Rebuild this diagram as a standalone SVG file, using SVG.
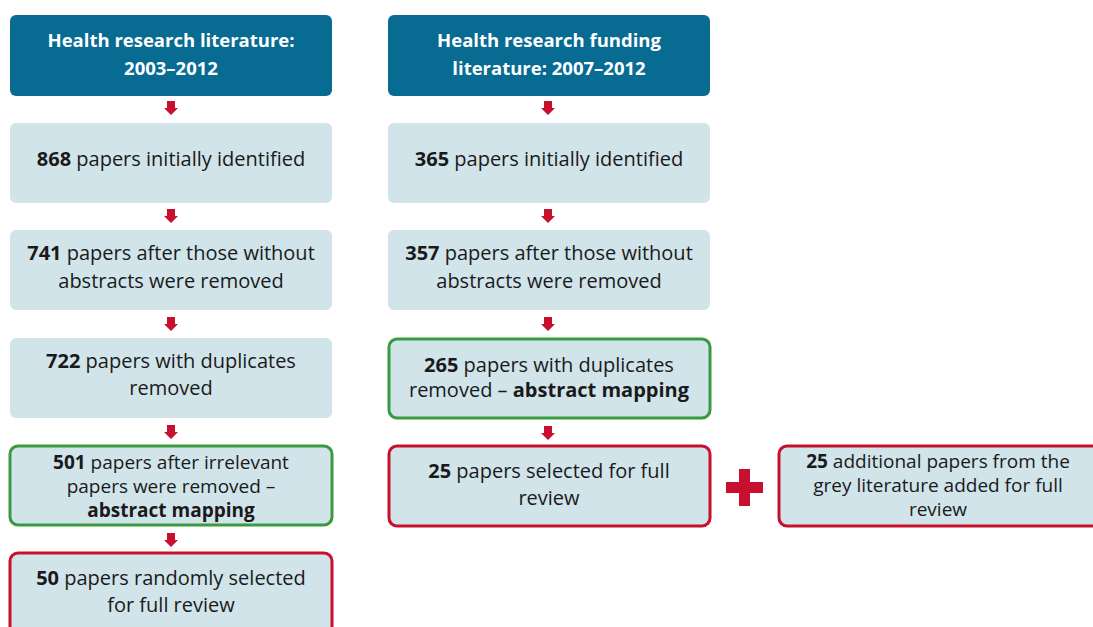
<svg xmlns="http://www.w3.org/2000/svg" width="1093" height="627" viewBox="0 0 1093 627">
  <defs>
    <style>
      .head { fill: #086b92; }
      .box { fill: #d0e4ea; }
      .green { fill: #d0e4ea; stroke: #3a9a3f; stroke-width: 3; }
      .red { fill: #d0e4ea; stroke: #c8102e; stroke-width: 3; }
      .arrow { fill: #c8102e; }
      text { font-family: "Open Sans", "Liberation Sans", sans-serif; font-size: 20px; fill: #1a1a1a; text-anchor: middle; }
      .ht { fill: #ffffff; font-weight: bold; font-size: 18.5px; }
      .sm { font-size: 19px; }
      .b { font-weight: bold; }
    </style>
    <path id="dn" d="M-4,0 H4 V7 H7 L0,14 L-7,7 H-4 Z"/>
  </defs>

  <!-- Left column -->
  <g id="left-head">
    <rect class="head" x="10" y="15" width="322" height="81" rx="6"/>
    <text class="ht" x="171" y="47">Health research literature:</text>
    <text class="ht" x="171" y="75">2003–2012</text>
  </g>
  <g id="left-868">
    <rect class="box" x="10" y="123" width="322" height="80" rx="6"/>
    <text x="171" y="166"><tspan class="b">868</tspan> papers initially identified</text>
  </g>
  <g id="left-741">
    <rect class="box" x="10" y="230" width="322" height="80" rx="6"/>
    <text x="171" y="260"><tspan class="b">741</tspan> papers after those without</text>
    <text x="171" y="288">abstracts were removed</text>
  </g>
  <g id="left-722">
    <rect class="box" x="10" y="338" width="322" height="80" rx="6"/>
    <text x="171" y="368"><tspan class="b">722</tspan> papers with duplicates</text>
    <text x="171" y="395">removed</text>
  </g>
  <g id="left-501">
    <rect class="green" x="10" y="446" width="322" height="79" rx="8"/>
    <text class="sm" x="171" y="469"><tspan class="b">501</tspan> papers after irrelevant</text>
    <text class="sm" x="171" y="493">papers were removed –</text>
    <text class="sm b" x="171" y="517">abstract mapping</text>
  </g>
  <g id="left-50">
    <rect class="red" x="10" y="553" width="322" height="90" rx="8"/>
    <text x="171" y="585"><tspan class="b">50</tspan> papers randomly selected</text>
    <text x="171" y="612">for full review</text>
  </g>

  <!-- Right column -->
  <g id="right-head">
    <rect class="head" x="388" y="15" width="322" height="81" rx="6"/>
    <text class="ht" x="549" y="47">Health research funding</text>
    <text class="ht" x="549" y="75">literature: 2007–2012</text>
  </g>
  <g id="right-365">
    <rect class="box" x="388" y="123" width="322" height="80" rx="6"/>
    <text x="549" y="166"><tspan class="b">365</tspan> papers initially identified</text>
  </g>
  <g id="right-357">
    <rect class="box" x="388" y="230" width="322" height="80" rx="6"/>
    <text x="549" y="260"><tspan class="b">357</tspan> papers after those without</text>
    <text x="549" y="288">abstracts were removed</text>
  </g>
  <g id="right-265">
    <rect class="green" x="389" y="339" width="321" height="79" rx="8"/>
    <text x="549" y="372"><tspan class="b">265</tspan> papers with duplicates</text>
    <text x="549" y="397">removed  – <tspan class="b">abstract mapping</tspan></text>
  </g>
  <g id="right-25">
    <rect class="red" x="389" y="446" width="321" height="80" rx="8"/>
    <text x="549" y="478"><tspan class="b">25</tspan> papers selected for full</text>
    <text x="549" y="505">review</text>
  </g>
  <g id="grey-25">
    <rect class="red" x="779" y="446" width="330" height="80" rx="8"/>
    <text class="sm" x="938" y="468"><tspan class="b">25</tspan> additional papers from the</text>
    <text class="sm" x="938" y="492">grey literature added for full</text>
    <text class="sm" x="938" y="516">review</text>
  </g>

  <!-- Connectors -->
  <g id="connectors" class="arrow">
    <use href="#dn" x="171" y="101"/>
    <use href="#dn" x="171" y="209"/>
    <use href="#dn" x="171" y="317"/>
    <use href="#dn" x="171" y="425"/>
    <use href="#dn" x="171" y="533"/>
    <use href="#dn" x="548" y="101"/>
    <use href="#dn" x="548" y="209"/>
    <use href="#dn" x="548" y="317"/>
    <use href="#dn" x="548" y="426"/>
    <!-- plus sign joining the two selections -->
    <rect x="726" y="482" width="37" height="11"/>
    <rect x="739" y="469" width="11" height="37"/>
  </g>
</svg>
